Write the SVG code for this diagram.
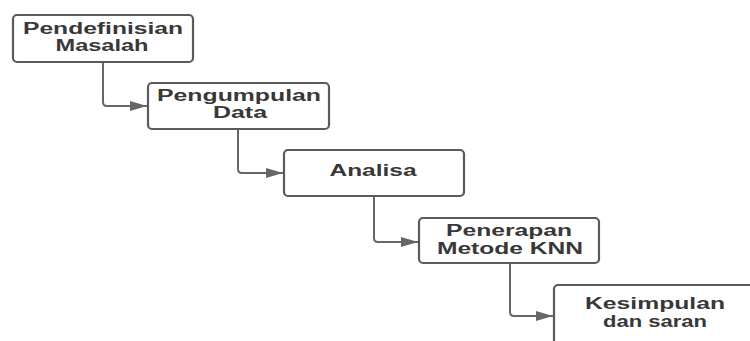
<svg xmlns="http://www.w3.org/2000/svg" width="750" height="341" viewBox="0 0 750 341">
<style>
.box{fill:#fff;stroke:#5a5a5a;stroke-width:2.2}
.lbl{font-family:"Liberation Sans",Arial,sans-serif;font-weight:bold;font-size:16px;fill:#383838;text-anchor:middle}
.con{fill:none;stroke:#666;stroke-width:2}
</style>
<defs>
<marker id="ah" viewBox="0 0 17 10" refX="17" refY="5" markerWidth="17" markerHeight="10" markerUnits="userSpaceOnUse" orient="auto">
<path d="M0,0 L17,5 L0,10 Z" fill="#666"/>
</marker>
</defs>
<rect width="750" height="341" fill="#fff"/>
<g id="connectors">
<path class="con" d="M103,62 V102 Q103,106 107,106 H147" marker-end="url(#ah)"/>
<path class="con" d="M238,129 V169 Q238,173 242,173 H283" marker-end="url(#ah)"/>
<path class="con" d="M374,196 V238 Q374,242 378,242 H418" marker-end="url(#ah)"/>
<path class="con" d="M510,263 V312 Q510,316 514,316 H553" marker-end="url(#ah)"/>
</g>
<g id="n1">
<rect class="box" x="13" y="15" width="180" height="47" rx="4"/>
<text class="lbl" x="103" y="34" textLength="160" lengthAdjust="spacingAndGlyphs">Pendefinisian</text>
<text class="lbl" x="102" y="51" textLength="93" lengthAdjust="spacingAndGlyphs">Masalah</text>
</g>
<g id="n2">
<rect class="box" x="148" y="83" width="181" height="46" rx="4"/>
<text class="lbl" x="239" y="101" textLength="164" lengthAdjust="spacingAndGlyphs">Pengumpulan</text>
<text class="lbl" x="240" y="118" textLength="54" lengthAdjust="spacingAndGlyphs">Data</text>
</g>
<g id="n3">
<rect class="box" x="284" y="150" width="180" height="46" rx="4"/>
<text class="lbl" x="373" y="176" textLength="87" lengthAdjust="spacingAndGlyphs">Analisa</text>
</g>
<g id="n4">
<rect class="box" x="419" y="218" width="180" height="45" rx="4"/>
<text class="lbl" x="509" y="236" textLength="126" lengthAdjust="spacingAndGlyphs">Penerapan</text>
<text class="lbl" x="510" y="254" textLength="146" lengthAdjust="spacingAndGlyphs">Metode KNN</text>
</g>
<g id="n5">
<rect class="box" x="554" y="285" width="220" height="80" rx="4"/>
<text class="lbl" x="655" y="309" textLength="140" lengthAdjust="spacingAndGlyphs">Kesimpulan</text>
<text class="lbl" x="655" y="327" textLength="104" lengthAdjust="spacingAndGlyphs">dan saran</text>
</g>
</svg>
